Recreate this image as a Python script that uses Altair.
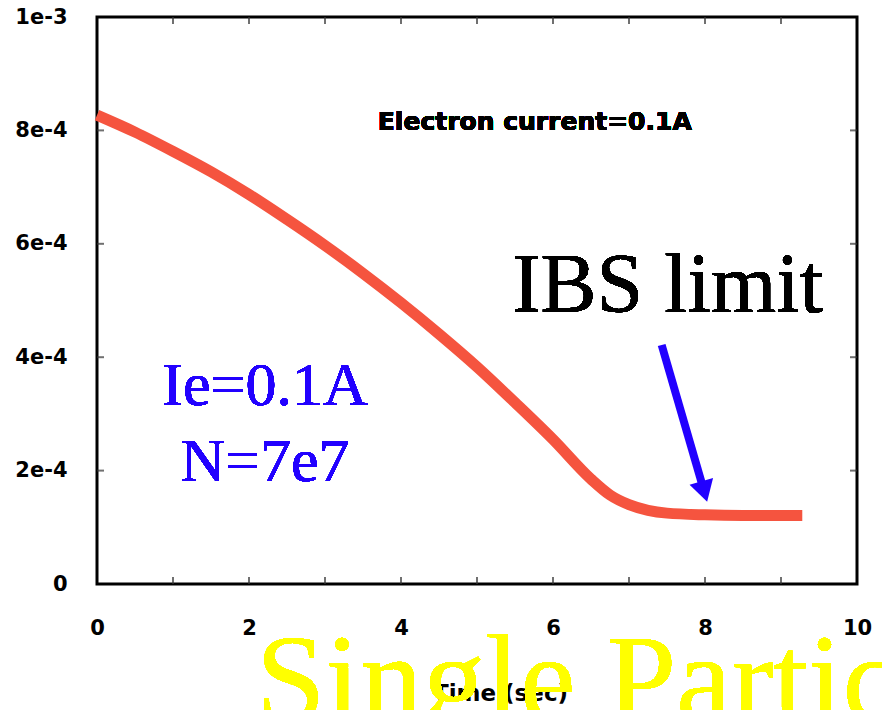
import altair as alt
import pandas as pd

# Curve
time_s = [0.0, 0.5, 1.0, 1.5, 2.0, 2.5, 3.0, 3.5, 4.0, 4.5, 5.0, 5.5, 6.0, 6.5, 6.75,
          7.0, 7.25, 7.5, 8.0, 8.5, 9.28]
emittance = [8.27e-4, 7.97e-4, 7.63e-4, 7.27e-4, 6.87e-4, 6.43e-4, 5.97e-4, 5.48e-4, 4.96e-4,
             4.41e-4, 3.83e-4, 3.20e-4, 2.55e-4, 1.85e-4, 1.57e-4, 1.40e-4, 1.30e-4, 1.25e-4,
             1.22e-4, 1.21e-4, 1.21e-4]

x_labels = [0, 2, 4, 6, 8, 10]
x_minor = [1, 2, 3, 4, 5, 6, 7, 8, 9]
y_labels = [0, 2e-4, 4e-4, 6e-4, 8e-4, 1e-3]
y_minor = [2e-4, 4e-4, 6e-4, 8e-4]

curve = pd.DataFrame({"t": time_s, "v": emittance})
xt = pd.DataFrame({"t": x_minor})
yt = pd.DataFrame({"v": y_minor})

xs = alt.Scale(domain=[0, 10], nice=False, zero=False)
ys = alt.Scale(domain=[0, 0.001], nice=False, zero=False)

LABEL_FONT = "DejaVu Sans"
SERIF = "Liberation Serif"

line = alt.Chart(curve).mark_line(color="#F5543F", strokeWidth=11, interpolate="monotone").encode(
    x=alt.X("t:Q", scale=xs, axis=alt.Axis(
        values=x_labels, format="d", labelFlush=False, ticks=False, domain=False, grid=False,
        labelPadding=33, labelFont=LABEL_FONT, labelFontWeight="bold", labelFontSize=21,
        labelColor="black",
        title="Time (sec)", titleFont=LABEL_FONT, titleFontWeight="bold", titleFontSize=23,
        titleColor="black", titleX=403, titleY=116, titleBaseline="alphabetic", titleAnchor="middle")),
    y=alt.Y("v:Q", scale=ys, axis=alt.Axis(
        values=y_labels, labelFlush=False, ticks=False, domain=False, grid=False, labelPadding=30,
        labelExpr="datum.value == 0 ? '0' : format(datum.value, '.0e')",
        labelFont=LABEL_FONT, labelFontWeight="bold", labelFontSize=21, labelColor="black",
        title=None)),
)

tick_style = dict(color="#333333", thickness=2, size=7)
bottom_ticks = alt.Chart(xt).mark_tick(orient="vertical", yOffset=-3.5, **tick_style).encode(
    x=alt.X("t:Q", scale=xs), y=alt.datum(0, scale=ys))
top_ticks = alt.Chart(xt).mark_tick(orient="vertical", yOffset=3.5, **tick_style).encode(
    x=alt.X("t:Q", scale=xs), y=alt.datum(0.001, scale=ys))
left_ticks = alt.Chart(yt).mark_tick(orient="horizontal", xOffset=3.5, **tick_style).encode(
    y=alt.Y("v:Q", scale=ys), x=alt.datum(0, scale=xs))
right_ticks = alt.Chart(yt).mark_tick(orient="horizontal", xOffset=-3.5, **tick_style).encode(
    y=alt.Y("v:Q", scale=ys), x=alt.datum(10, scale=xs))

electron = alt.Chart(curve).mark_text(
    text="Electron current=0.1A", font=LABEL_FONT, fontWeight="bold", fontSize=25,
    color="black", baseline="middle", align="center").encode(
    x=alt.datum(5.76), y=alt.datum(8.15e-4))

ibs = alt.Chart(curve).mark_text(
    text="IBS limit", font=SERIF, fontSize=84, color="black",
    baseline="alphabetic", align="center").encode(
    x=alt.datum(7.51), y=alt.datum(4.8e-4))

ie = alt.Chart(curve).mark_text(
    text=["Ie=0.1A", "N=7e7"], font=SERIF, fontSize=62, color="#2200FF", lineHeight=76,
    baseline="alphabetic", align="center").encode(
    x=alt.datum(2.21), y=alt.datum(3.16e-4))

arrow_df = pd.DataFrame({"t": [7.43], "v": [4.215e-4], "t2": [7.99], "v2": [1.63e-4]})
arrow_shaft = alt.Chart(arrow_df).mark_rule(color="#2200FF", strokeWidth=8).encode(
    x="t:Q", y="v:Q", x2="t2:Q", y2="v2:Q")
arrow_head = alt.Chart(arrow_df).mark_point(
    shape="triangle-down", angle=344, size=600, filled=True, opacity=1,
    color="#2200FF", strokeWidth=0).encode(x="t2:Q", y="v2:Q")

single = alt.Chart(curve).mark_text(
    text="Single Particle Model", font=SERIF, fontSize=125, color="#FFFF00",
    baseline="alphabetic", align="left").encode(
    x=alt.value(159), y=alt.value(704))

chart = alt.layer(
    line, bottom_ticks, top_ticks, left_ticks, right_ticks,
    electron, ibs, ie, arrow_shaft, arrow_head, single
).properties(
    width=760, height=567,
    autosize=alt.AutoSizeParams(type="none"),
    padding={"left": 97, "top": 17, "right": 25, "bottom": 126},
    background="white",
).configure_view(stroke="black", strokeWidth=3)

chart.save("out.html", embed_options={"renderer": "svg", "actions": False})
